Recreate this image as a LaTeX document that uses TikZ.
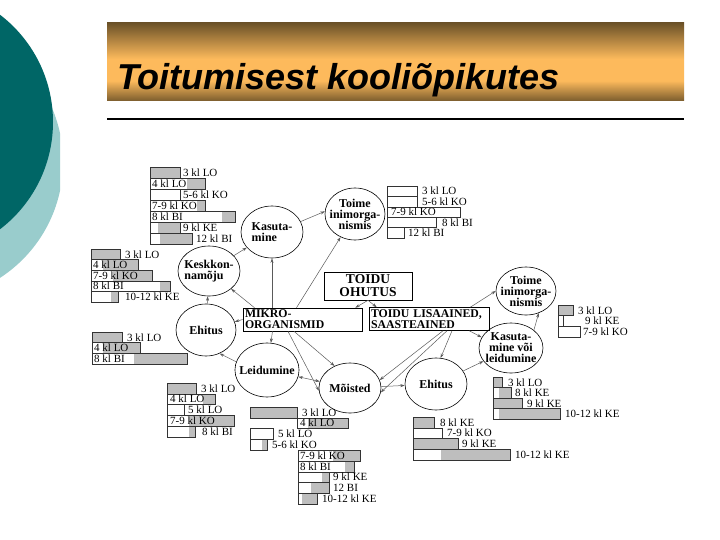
\documentclass[tikz,border=0pt]{standalone}
\usepackage{fontspec}
\setmainfont{Liberation Serif}
\newfontfamily\pealkirjakiri{Liberation Sans}
\usetikzlibrary{shapes.geometric,arrows.meta}
\definecolor{tumetiil}{RGB}{0,102,102}
\definecolor{heletiil}{RGB}{153,204,204}
\definecolor{pruun}{RGB}{108,82,40}
\definecolor{oranz}{RGB}{253,186,92}
\definecolor{hall}{RGB}{190,190,190}
\definecolor{joon}{RGB}{90,90,90}
\pgfdeclareverticalshading{riba}{100bp}{color(0bp)=(pruun!90!oranz); color(25bp)=(pruun!90!oranz);
  color(38bp)=(oranz); color(52bp)=(oranz); color(75bp)=(pruun); color(100bp)=(pruun)}
\newcommand*{\tulbad}[4]{%
  \foreach \algus/\valge/\hallx/\siltx/\tekst [count=\i] in {#4}{%
    \pgfmathsetmacro{\ry}{#2+#3*(\i-1)}
    \fill[hall] (\valge,\ry) rectangle (\hallx,\ry+#3);
    \draw[tulp] (\algus,\ry) rectangle (\hallx,\ry+#3);
    \node[silt] (#1\i) at (\siltx,\ry+#3/2) {\tekst};
  }}

\begin{document}
\begin{tikzpicture}[x=1pt, y=-1pt,
  teema/.style={ellipse, draw, line width=0.6pt, inner sep=-5pt, align=center,
    font=\bfseries\fontsize{12}{11}\selectfont},
  kast/.style={rectangle, draw, line width=0.6pt, inner xsep=2pt, inner ysep=2pt,
    font=\bfseries\fontsize{11.8}{11}\selectfont},
  nool/.style={draw=joon, line width=0.5pt, >={Stealth[length=4.5pt, width=3pt]}, ->},
  tulp/.style={draw=black!80, line width=0.5pt},
  silt/.style={anchor=west, inner sep=0pt, font=\fontsize{11}{11}\selectfont}]

\useasboundingbox (0,0) rectangle (720,540);
\fill[white] (0,0) rectangle (720,540);
\begin{scope}
  \clip (0,0) rectangle (60,540);
  \fill[heletiil] (-75,162) circle (138pt);
\end{scope}
\begin{scope}
  \clip (0,0) rectangle (720,540);
  \fill[tumetiil] (-82,122) circle (135pt);
\end{scope}

\begin{scope}[y=1pt]
  \shade[shading=riba] (107,-101) rectangle (684,-23);
\end{scope}
\node[anchor=base west, inner sep=0pt,
  font=\pealkirjakiri\bfseries\itshape\fontsize{36}{36}\selectfont] (pealkiri) at (117,90) {Toitumisest kooliõpikutes};
\draw[line width=2pt] (107,119) -- (684,119);

\node[teema, minimum width=62pt, minimum height=52pt, align=left] (kasut) at (272,232) {Kasuta-\\mine};
\node[teema, minimum width=60pt, minimum height=52pt] (toime1) at (355,214) {Toime\\inimorga-\\nismis};
\node[teema, minimum width=62pt, minimum height=50pt, align=left] (keskk) at (209,271) {Keskkon-\\namõju};
\node[teema, minimum width=60pt, minimum height=52pt] (ehitus1) at (206,330) {Ehitus};
\node[teema, minimum width=64pt, minimum height=54pt] (leid) at (267,370) {Leidumine};
\node[teema, minimum width=62pt, minimum height=50pt] (moist) at (350,388) {Mõisted};
\node[teema, minimum width=62pt, minimum height=52pt] (ehitus2) at (436,384) {Ehitus};
\node[teema, minimum width=60pt, minimum height=48pt] (toime2) at (526,291) {Toime\\inimorga-\\nismis};
\node[teema, minimum width=64pt, minimum height=50pt] (kasleid) at (511,348) {Kasuta-\\mine või\\leidumine};

\node[kast, minimum width=88pt, minimum height=28pt, align=center,
  font=\bfseries\fontsize{13.5}{13}\selectfont] (ohutus) at (368,286) {TOIDU\\OHUTUS};
\node[kast, minimum width=119pt, minimum height=23pt, text width=115pt, align=left] (mikro) at (302.5,319.5) {MIKRO-\\ORGANISMID};
\node[kast, minimum width=120pt, minimum height=22pt, text width=116pt, align=left] (lisa) at (429,319) {TOIDU LISAAINED,\\SAASTEAINED};

\draw[nool] (keskk) -- (kasut);
\draw[nool] (mikro.north -| kasut) -- (kasut.south);
\draw[nool] ([xshift=-6pt]mikro.north) -- (toime1);
\draw[nool] (kasut.20) -- (toime1.175);
\draw[nool] ([xshift=-48pt]mikro.north) -- (keskk);
\draw[nool] (ehitus1) -- (keskk);
\draw[nool] (mikro.west) -- (ehitus1);
\draw[nool] (leid.165) -- (ehitus1.-60);
\draw[nool] ([xshift=-30pt]mikro.south) -- (leid);
\draw[nool] ([xshift=-8.5pt]mikro.south) -- (moist.125);
\draw[nool] ([xshift=-14.5pt]mikro.south) -- (moist.185);
\draw[nool, <->] (leid) -- (moist);
\draw[nool] ([xshift=14pt]lisa.south) -- (moist.15);
\draw[nool] ([xshift=18pt]lisa.south) -- (moist.-8);
\draw[nool] ([xshift=23pt]lisa.south) -- (ehitus2.80);
\draw[nool] (moist) -- (ehitus2);
\draw[nool] (ehitus2) -- (kasleid);
\draw[nool] ([xshift=-19pt]lisa.north east) -- (toime2.west);
\draw[nool] ([xshift=-20pt]lisa.south east) -- (kasleid.160);
\draw[nool] (kasleid.38) -- (toime2.-60);
\draw[nool] (ohutus.south) -- ([xshift=-7pt]mikro.north east);
\draw[nool] (ohutus.south) -- ([xshift=8pt]lisa.north west);

\tulbad{a}{167}{11}{150/150/180/183/{3 kl LO}, 150/187/205/152/{4 kl LO},
  150/180/180/183/{5-6 kl KO}, 150/197/205/152/{7-9 kl KO}, 150/222/235/152/{8 kl BI},
  150/158/180/183/{9 kl KE}, 150/160/192/196/{12 kl BI}}
\tulbad{b}{186}{10.4}{387/417/417/422/{3 kl LO}, 387/417/417/422/{5-6 kl KO},
  387/460/460/391/{7-9 kl KO}, 387/436/436/442/{8 kl BI}, 387/404/404/408/{12 kl BI}}
\tulbad{c}{249}{10.6}{91/91/120/125/{3 kl LO}, 91/103/138/93/{4 kl LO},
  91/113/152/93/{7-9 kl KO}, 91/160/170/93/{8 kl BI}, 91/111/118/125/{10-12 kl KE}}
\tulbad{d}{332}{10.7}{92/92/122/127/{3 kl LO}, 92/103/140/94/{4 kl LO},
  92/134/187/94/{8 kl BI}}
\tulbad{e}{383}{10.8}{167/167/196/201/{3 kl LO}, 167/203/215/170/{4 kl LO},
  167/184/184/188/{5 kl LO}, 167/189/234/170/{7-9 kl KO}, 167/189/195/202/{8 kl BI}}
\tulbad{f}{407}{10.8}{250/250/297/302/{3 kl LO}, 297/308/348/300/{4 kl LO},
  250/273/273/278/{5 kl LO}, 250/262/267/272/{5-6 kl KO}, 298/333/360/300/{7-9 kl KO},
  298/345/354/300/{8 kl BI}, 298/322/329/333/{9 kl KE}, 298/311/329/333/{12 BI},
  298/302/317/322/{10-12 kl KE}}
\tulbad{g}{305}{10.7}{558/558/573/578/{3 kl LO}, 558/563/563/585/{9 kl KE},
  558/580/580/583/{7-9 kl KO}}
\tulbad{h}{377}{10.5}{493/493/502/508/{3 kl LO}, 493/499/511/515/{8 kl KE},
  493/493/522/527/{9 kl KE}, 493/499/560/565/{10-12 kl KE}}
\tulbad{i}{417}{10.75}{413/413/434/440/{8 kl KE}, 413/442/442/447/{7-9 kl KO},
  413/413/458/462/{9 kl KE}, 413/441/510/515/{10-12 kl KE}}
\end{tikzpicture}
\end{document}
